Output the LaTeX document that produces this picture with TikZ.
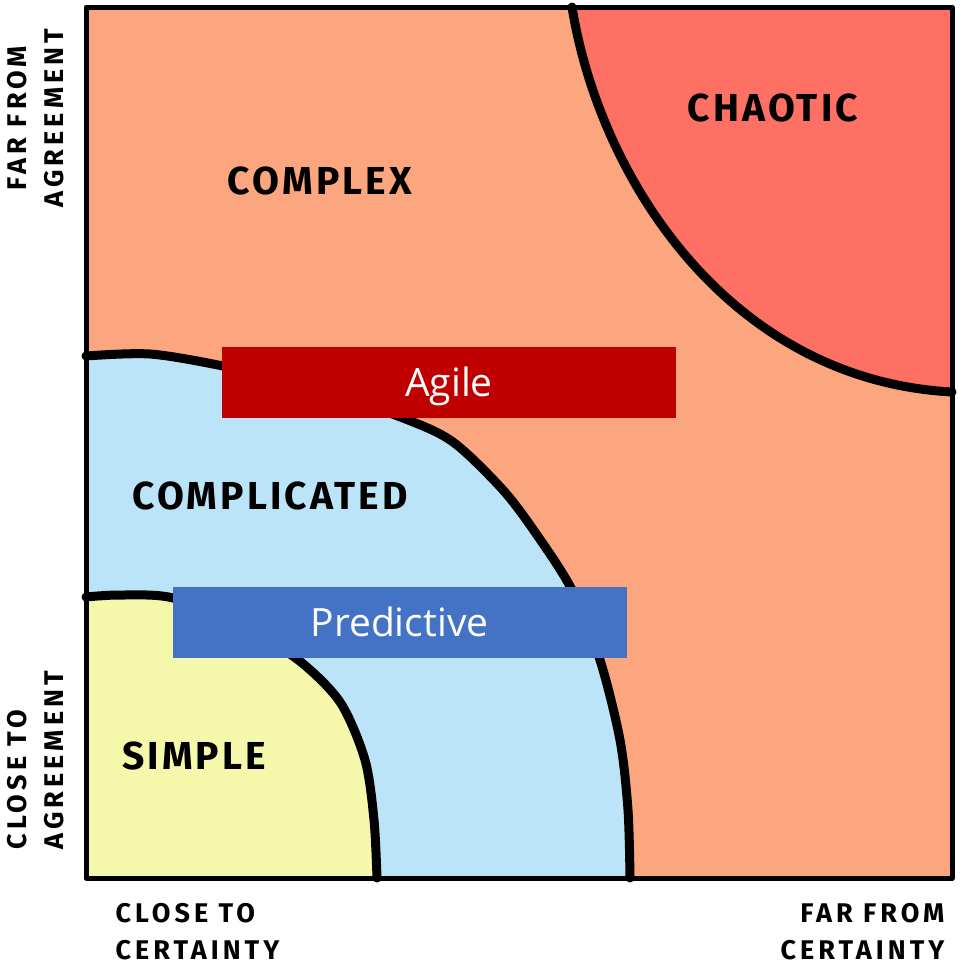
\documentclass[tikz,border=0pt]{standalone}
\usepackage{fontspec}
\setmainfont{Open Sans}
\newfontfamily\handfont[LetterSpace=8]{Fira Sans}
\newfontfamily\handwide[LetterSpace=15]{Fira Sans}
\usetikzlibrary{positioning}

\definecolor{complexfill}{HTML}{FCA680}
\definecolor{chaosfill}{HTML}{FF7064}
\definecolor{complicatedfill}{HTML}{BCE4F8}
\definecolor{simplefill}{HTML}{F5F8AA}
\definecolor{agilered}{HTML}{C00000}
\definecolor{predictblue}{HTML}{4472C4}

\def\chaoscurve{(572,7) .. controls (600,180) and (730,380) .. (952,392)}
\def\complexcurve{plot[smooth] coordinates {(86,356) (150,354) (223,366) (310,386) (403,418) (453,442) (503,490) (537,535) (572,590) (600,660) (620,740) (628,810) (630,878)}}
\def\simplecurve{plot[smooth] coordinates {(86,597) (120,595) (173,598) (240,626) (297,659) (340,702) (365,760) (374,820) (377,878)}}

\begin{document}
\begin{tikzpicture}[
		x=1pt,y=-1pt,
		line join=round,
		border/.style={line width=9pt,line cap=round},
		frame/.style={line width=5pt},
		zone/.style={font=\handfont\bfseries\fontsize{39}{44}\selectfont},
		axis/.style={font=\handwide\bfseries\fontsize{27}{37}\selectfont},
		method/.style={rectangle,minimum width=454,minimum height=71,inner sep=0,text=white,text height=28,text depth=0,font=\fontsize{39}{44}\selectfont}
		]
		\useasboundingbox (0,0) rectangle (975,980);
		\fill[white] (0,0) rectangle (975,980);
		\coordinate (tl) at (86,7);
		\coordinate (tr) at (952,7);
		\coordinate (br) at (952,878);
		\coordinate (bl) at (86,878);
		
		% domains
		\fill[complexfill] (tl) rectangle (br);
		\fill[chaosfill] \chaoscurve -- (tr) -- cycle;
		\fill[complicatedfill] \complexcurve -- (bl) -- cycle;
		\fill[simplefill] \simplecurve -- (bl) -- cycle;
		\draw[border] \chaoscurve;
		\draw[border] \complexcurve;
		\draw[border] \simplecurve;
		\draw[frame] (tl) rectangle (br);
		
		\node[zone](complex) at (320,181){COMPLEX};
		\node[zone](chaotic) at (773,108){CHAOTIC};
		\node[zone](complicated) at (270,496){COMPLICATED};
		\node[zone](simple) at (194,756){SIMPLE};
		
		% axes
		\node[axis,align=center,rotate=90](faragree) at (36,118){FAR FROM\\AGREEMENT};
		\node[axis,align=left,rotate=90,anchor=west](closeagree) at (36,853){CLOSE TO\\AGREEMENT};
		\node[axis,align=left,anchor=west](closecert) at (112,932){CLOSE TO\\CERTAINTY};
		\node[axis,align=right,anchor=east](farcert) at (948,932){FAR FROM\\CERTAINTY};
		
		% approaches
		\node[method,fill=agilered](agile) at (449,382.5){Agile};
		\node[method,fill=predictblue](predictive) at (399.5,622.5){Predictive};
		
		\end{tikzpicture}
\end{document}
